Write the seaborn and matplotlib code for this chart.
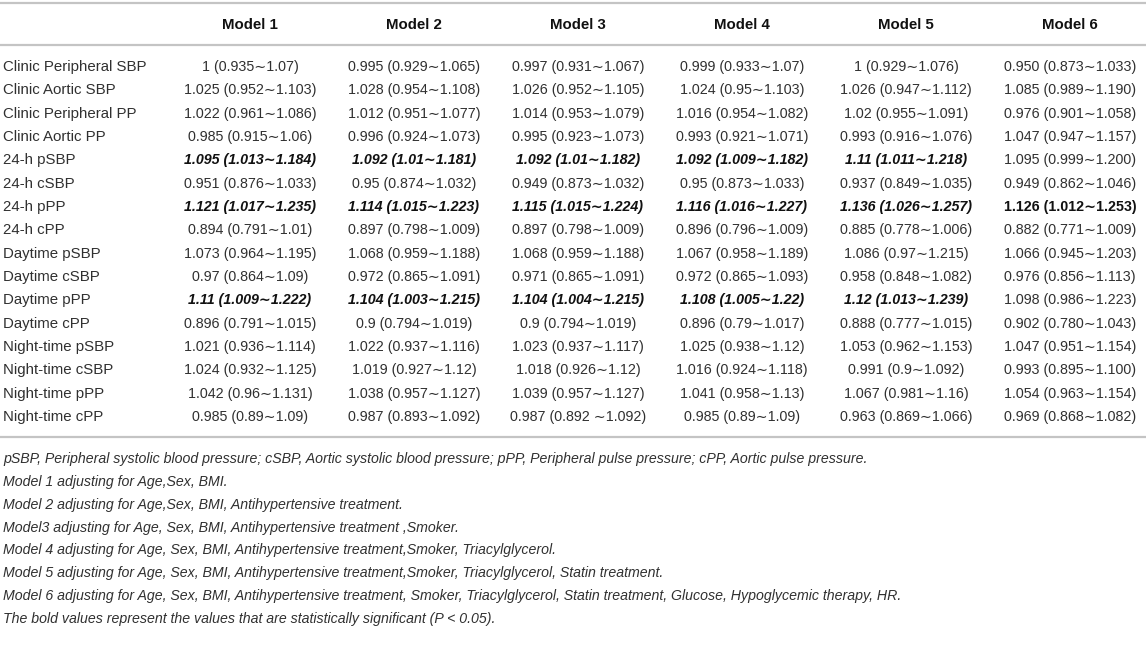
import matplotlib
matplotlib.use('Agg')
import matplotlib.pyplot as plt
import seaborn as sns

# table contents
rows = ['Clinic Peripheral SBP', 'Clinic Aortic SBP', 'Clinic Peripheral PP', 'Clinic Aortic PP',
        '24-h pSBP', '24-h cSBP', '24-h pPP', '24-h cPP',
        'Daytime pSBP', 'Daytime cSBP', 'Daytime pPP', 'Daytime cPP',
        'Night-time pSBP', 'Night-time cSBP', 'Night-time pPP', 'Night-time cPP']
models = ['Model 1', 'Model 2', 'Model 3', 'Model 4', 'Model 5', 'Model 6']

model1 = ['1 (0.935∼1.07)', '1.025 (0.952∼1.103)', '1.022 (0.961∼1.086)', '0.985 (0.915∼1.06)',
          '1.095 (1.013∼1.184)', '0.951 (0.876∼1.033)', '1.121 (1.017∼1.235)', '0.894 (0.791∼1.01)',
          '1.073 (0.964∼1.195)', '0.97 (0.864∼1.09)', '1.11 (1.009∼1.222)', '0.896 (0.791∼1.015)',
          '1.021 (0.936∼1.114)', '1.024 (0.932∼1.125)', '1.042 (0.96∼1.131)', '0.985 (0.89∼1.09)']
model2 = ['0.995 (0.929∼1.065)', '1.028 (0.954∼1.108)', '1.012 (0.951∼1.077)', '0.996 (0.924∼1.073)',
          '1.092 (1.01∼1.181)', '0.95 (0.874∼1.032)', '1.114 (1.015∼1.223)', '0.897 (0.798∼1.009)',
          '1.068 (0.959∼1.188)', '0.972 (0.865∼1.091)', '1.104 (1.003∼1.215)', '0.9 (0.794∼1.019)',
          '1.022 (0.937∼1.116)', '1.019 (0.927∼1.12)', '1.038 (0.957∼1.127)', '0.987 (0.893∼1.092)']
model3 = ['0.997 (0.931∼1.067)', '1.026 (0.952∼1.105)', '1.014 (0.953∼1.079)', '0.995 (0.923∼1.073)',
          '1.092 (1.01∼1.182)', '0.949 (0.873∼1.032)', '1.115 (1.015∼1.224)', '0.897 (0.798∼1.009)',
          '1.068 (0.959∼1.188)', '0.971 (0.865∼1.091)', '1.104 (1.004∼1.215)', '0.9 (0.794∼1.019)',
          '1.023 (0.937∼1.117)', '1.018 (0.926∼1.12)', '1.039 (0.957∼1.127)', '0.987 (0.892 ∼1.092)']
model4 = ['0.999 (0.933∼1.07)', '1.024 (0.95∼1.103)', '1.016 (0.954∼1.082)', '0.993 (0.921∼1.071)',
          '1.092 (1.009∼1.182)', '0.95 (0.873∼1.033)', '1.116 (1.016∼1.227)', '0.896 (0.796∼1.009)',
          '1.067 (0.958∼1.189)', '0.972 (0.865∼1.093)', '1.108 (1.005∼1.22)', '0.896 (0.79∼1.017)',
          '1.025 (0.938∼1.12)', '1.016 (0.924∼1.118)', '1.041 (0.958∼1.13)', '0.985 (0.89∼1.09)']
model5 = ['1 (0.929∼1.076)', '1.026 (0.947∼1.112)', '1.02 (0.955∼1.091)', '0.993 (0.916∼1.076)',
          '1.11 (1.011∼1.218)', '0.937 (0.849∼1.035)', '1.136 (1.026∼1.257)', '0.885 (0.778∼1.006)',
          '1.086 (0.97∼1.215)', '0.958 (0.848∼1.082)', '1.12 (1.013∼1.239)', '0.888 (0.777∼1.015)',
          '1.053 (0.962∼1.153)', '0.991 (0.9∼1.092)', '1.067 (0.981∼1.16)', '0.963 (0.869∼1.066)']
model6 = ['0.950 (0.873∼1.033)', '1.085 (0.989∼1.190)', '0.976 (0.901∼1.058)', '1.047 (0.947∼1.157)',
          '1.095 (0.999∼1.200)', '0.949 (0.862∼1.046)', '1.126 (1.012∼1.253)', '0.882 (0.771∼1.009)',
          '1.066 (0.945∼1.203)', '0.976 (0.856∼1.113)', '1.098 (0.986∼1.223)', '0.902 (0.780∼1.043)',
          '1.047 (0.951∼1.154)', '0.993 (0.895∼1.100)', '1.054 (0.963∼1.154)', '0.969 (0.868∼1.082)']
values = [model1, model2, model3, model4, model5, model6]

# significant cells: (row, column) -> italic?
significant = {}
for r in [4, 6, 10]:
    for c in range(5):
        significant[(r, c)] = True
significant[(6, 5)] = False

notes = [
    'pSBP, Peripheral systolic blood pressure; cSBP, Aortic systolic blood pressure; pPP, Peripheral pulse pressure; cPP, Aortic pulse pressure.',
    'Model 1 adjusting for Age,Sex, BMI.',
    'Model 2 adjusting for Age,Sex, BMI, Antihypertensive treatment.',
    'Model3 adjusting for Age, Sex, BMI, Antihypertensive treatment ,Smoker.',
    'Model 4 adjusting for Age, Sex, BMI, Antihypertensive treatment,Smoker, Triacylglycerol.',
    'Model 5 adjusting for Age, Sex, BMI, Antihypertensive treatment,Smoker, Triacylglycerol, Statin treatment.',
    'Model 6 adjusting for Age, Sex, BMI, Antihypertensive treatment, Smoker, Triacylglycerol, Statin treatment, Glucose, Hypoglycemic therapy, HR.',
    'The bold values represent the values that are statistically significant (P < 0.05).',
]

sns.set_theme(style='white')
plt.rcParams['font.family'] = ['Liberation Sans', 'DejaVu Sans']

fig = plt.figure(figsize=(11.46, 6.54), dpi=100)
ax = fig.add_axes([0, 0, 1, 1])
ax.set_xlim(0, 1146)
ax.set_ylim(654, 0)
ax.axis('off')

txt = '#303030'
line_c = '#c4c4c4'
col_x = [250 + 164 * i for i in range(len(models))]
row_y0, row_dy = 67, 23.33
fs_lab = 10.8
fs_val = 10.3

# rules
for y in [3, 45, 437]:
    ax.axhline(y, color=line_c, lw=1.6)

for x, m in zip(col_x, models):
    ax.text(x, 25, m, ha='center', va='center', fontsize=fs_lab, fontweight='bold', color='#111111')

for i, r in enumerate(rows):
    y = row_y0 + i * row_dy
    ax.text(3, y, r, ha='left', va='center', fontsize=fs_lab, color=txt)
    for j, col in enumerate(values):
        if (i, j) in significant:
            style = 'italic' if significant[(i, j)] else 'normal'
            ax.text(col_x[j], y, col[i], ha='center', va='center', fontsize=fs_val,
                    fontweight='bold', fontstyle=style, color='#111111')
        else:
            ax.text(col_x[j], y, col[i], ha='center', va='center', fontsize=fs_val, color=txt)

for k, n in enumerate(notes):
    ax.text(3, 459 + k * 22.86, n, ha='left', va='center', fontsize=10.2, fontstyle='italic',
            color=txt)

fig.savefig('out.png', dpi=100)
